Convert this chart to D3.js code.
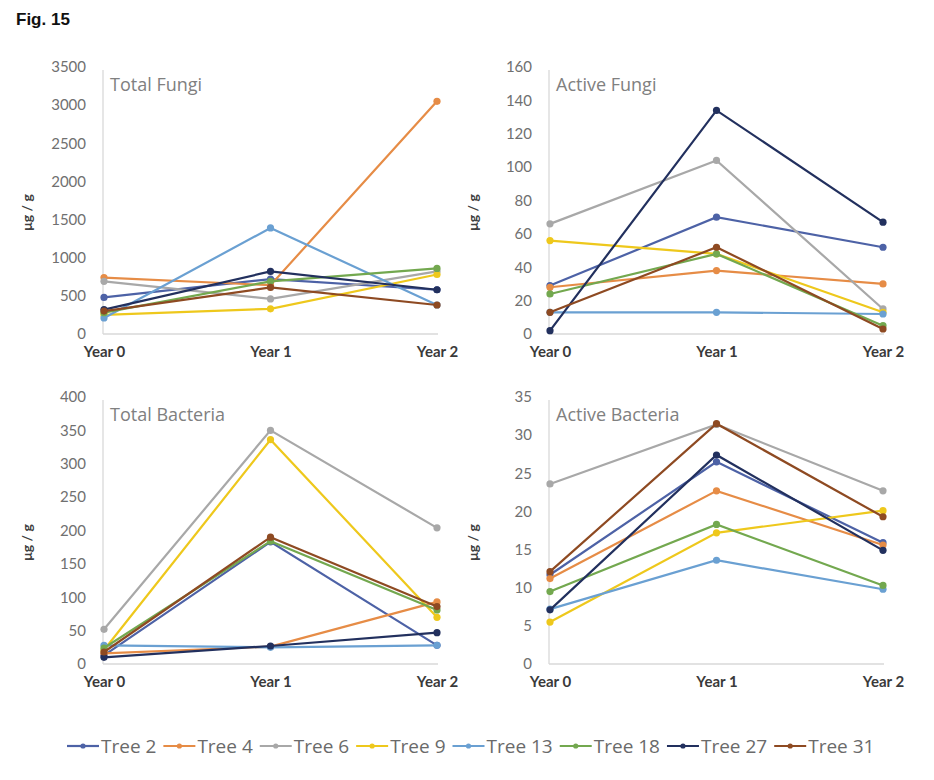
<!DOCTYPE html>
<html>
<head>
<meta charset="utf-8">
<script src="https://d3js.org/d3.v7.min.js"></script>
<style>
	body { margin: 0; background: #fff; }
	.tick text { font-family: Lato, "Open Sans", sans-serif; }
</style>
</head>
<body>
<div id="fig"></div>
<script>
var width = 934,
	height = 780;

// data
var years = ["Year 0", "Year 1", "Year 2"];
var trees = ["Tree 2", "Tree 4", "Tree 6", "Tree 9", "Tree 13", "Tree 18", "Tree 27", "Tree 31"];
var treeColors = ["#4d62a6", "#e68c46", "#a8a8a8", "#eec81c", "#6aa0d2", "#73a84f", "#22305e", "#8e4a22"];

// one row per tree, values for Year 0, Year 1, Year 2
var totalFungi = [
	[480, 720, 580],
	[740, 640, 3050],
	[690, 460, 820],
	[250, 330, 780],
	[210, 1390, 380],
	[280, 690, 860],
	[320, 820, 580],
	[300, 610, 380]
];
var activeFungi = [
	[29, 70, 52],
	[28, 38, 30],
	[66, 104, 15],
	[56, 48, 13],
	[13, 13, 12],
	[24, 48, 5],
	[2, 134, 67],
	[13, 52, 3]
];
var totalBacteria = [
	[13, 183, 28],
	[16, 26, 93],
	[52, 350, 204],
	[21, 336, 70],
	[28, 25, 28],
	[24, 184, 81],
	[10, 27, 47],
	[18, 190, 86]
];
var activeBacteria = [
	[11.7, 26.5, 15.9],
	[11.2, 22.7, 15.6],
	[23.6, 31.4, 22.7],
	[5.5, 17.2, 20.1],
	[7.2, 13.6, 9.8],
	[9.5, 18.3, 10.3],
	[7.1, 27.4, 14.9],
	[12.1, 31.5, 19.3]
];

var panels = [
	{title: "Total Fungi", values: totalFungi, max: 3500, step: 500, left: 103, top: 67, bottom: 334},
	{title: "Active Fungi", values: activeFungi, max: 160, step: 20, left: 549, top: 67, bottom: 334},
	{title: "Total Bacteria", values: totalBacteria, max: 400, step: 50, left: 103, top: 397, bottom: 664},
	{title: "Active Bacteria", values: activeBacteria, max: 35, step: 5, left: 549, top: 397, bottom: 664}
];
var plotWidth = 334;

var svg = d3.select("#fig").append("svg")
	.attr("width", width)
	.attr("height", height);

svg.append("text")
	.attr("x", 16)
	.attr("y", 25)
	.style("font-family", "'Liberation Sans', Arial, sans-serif")
	.style("font-weight", "bold")
	.style("font-size", "17px")
	.attr("fill", "#111")
	.text("Fig. 15");

panels.forEach(function(p){
	var x = d3.scalePoint()
		.domain(years)
		.range([p.left + 1, p.left + plotWidth]);
	var y = d3.scaleLinear()
		.domain([0, p.max])
		.range([p.bottom, p.top]);

	var g = svg.append("g");

	// y axis labels, no ticks
	var yAxis = d3.axisLeft(y)
		.tickValues(d3.range(0, p.max + p.step / 2, p.step))
		.tickFormat(d3.format("d"))
		.tickSize(0)
		.tickPadding(17);
	var ya = g.append("g")
		.attr("transform", "translate(" + p.left + ",0)")
		.call(yAxis);
	ya.select(".domain").remove();
	ya.selectAll("text")
		.attr("fill", "#707070")
		.style("font-size", "15px");

	// axis lines
	g.append("line")
		.attr("x1", p.left).attr("x2", p.left)
		.attr("y1", p.top + 3).attr("y2", p.bottom)
		.attr("stroke", "#d9d9d9").attr("stroke-width", 1.3);
	g.append("line")
		.attr("x1", p.left).attr("x2", p.left + plotWidth + 1)
		.attr("y1", p.bottom).attr("y2", p.bottom)
		.attr("stroke", "#d9d9d9").attr("stroke-width", 1.3);

	// x labels
	var xAxis = d3.axisBottom(x)
		.tickSize(0)
		.tickPadding(12);
	var xa = g.append("g")
		.attr("transform", "translate(0," + p.bottom + ")")
		.call(xAxis);
	xa.select(".domain").remove();
	xa.selectAll("text")
		.attr("fill", "#3a3a3a")
		.style("font-size", "15px")
		.style("font-weight", "bold");

	// y title
	g.append("text")
		.attr("transform", "translate(" + (p.left - 71) + "," + ((p.top + p.bottom) / 2 + 12) + ") rotate(-90)")
		.attr("text-anchor", "middle")
		.style("font-family", "Lato, sans-serif")
		.style("font-weight", "bold")
		.style("font-size", "14px")
		.attr("fill", "#404040")
		.text("μg / g");

	// panel title
	g.append("text")
		.attr("x", p.left + 7)
		.attr("y", p.top + 24)
		.style("font-family", "'Open Sans', sans-serif")
		.style("font-size", "18px")
		.attr("fill", "#808080")
		.text(p.title);

	var line = d3.line()
		.x(function(d, i){ return x(years[i]); })
		.y(function(d){ return y(d); });

	var series = g.selectAll(".series")
		.data(p.values)
		.enter()
		.append("g")
		.attr("class", "series");

	series.append("path")
		.attr("d", line)
		.attr("fill", "none")
		.attr("stroke", function(d, i){ return treeColors[i]; })
		.attr("stroke-width", 2.2);

	series.each(function(d, i){
		d3.select(this).selectAll("circle")
			.data(d)
			.enter()
			.append("circle")
			.attr("cx", function(v, j){ return x(years[j]); })
			.attr("cy", function(v){ return y(v); })
			.attr("r", 3.6)
			.attr("fill", treeColors[i]);
	});
});

// legend
var legend = svg.append("g");
var lx = 67;
trees.forEach(function(t, i){
	var item = legend.append("g")
		.attr("transform", "translate(" + lx + ",746)");
	item.append("line")
		.attr("x1", 0).attr("x2", 32)
		.attr("stroke", treeColors[i])
		.attr("stroke-width", 2.2);
	item.append("circle")
		.attr("cx", 16)
		.attr("r", 2.6)
		.attr("fill", treeColors[i]);
	var txt = item.append("text")
		.attr("x", 34)
		.attr("y", 7)
		.style("font-family", "'Open Sans', sans-serif")
		.style("font-size", "19px")
		.attr("fill", "#6a6a6a")
		.text(t);
	lx += 34 + txt.node().getComputedTextLength() + 7;
});
</script>
</body>
</html>
